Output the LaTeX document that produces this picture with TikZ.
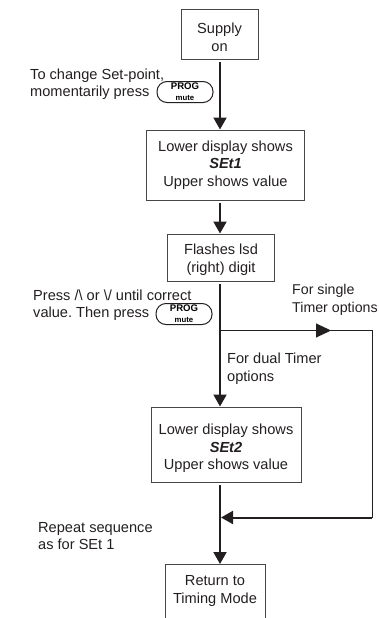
\documentclass[tikz,border=0pt]{standalone}
\usepackage{fontspec}
\setmainfont{Liberation Sans}
\frenchspacing
\usetikzlibrary{arrows.meta,shapes,positioning}
\definecolor{dfline}{RGB}{35,31,32}
\definecolor{dfbox}{RGB}{70,70,70}
\tikzstyle{stepbox} = [rectangle, draw=dfbox, line width=1pt, text centered, align=center, font=\fontsize{14.6}{17.5}\selectfont, text=dfline, inner sep=0pt]
\tikzstyle{note} = [align=left, anchor=west, font=\fontsize{14.6}{17.5}\selectfont, text=dfline, inner sep=0pt]
\tikzstyle{arrow} = [line width=2pt,-{Triangle[length=12pt,width=13pt]},color=dfline,shorten <=2.5pt]
\tikzstyle{thinline} = [line width=1pt,color=dfline]
\tikzstyle{progkey} = [rectangle, rounded corners=10pt, draw=dfline, line width=1pt, minimum width=56pt, minimum height=21pt, inner sep=0pt]
\newcommand{\progtext}{\raisebox{1.2pt}{\makebox[0pt]{\fontsize{9.6}{10}\selectfont\bfseries PROG}}%
\raisebox{-10pt}{\makebox[0pt]{\fontsize{7.8}{8}\selectfont\bfseries mute}}}
% extra space above the first line of a box
\newcommand{\topgap}[1]{\mbox{}\\[\dimexpr#1-17.5pt\relax]}
\begin{document}
\begin{tikzpicture}[x=1pt,y=1pt]
\useasboundingbox (0,0) rectangle (378,-618);
% Main boxes
\node[stepbox, minimum width=77pt, minimum height=50pt] (supply) at (219.5,-34.5) {\topgap{16.6pt}Supply\\on};
\node[stepbox, minimum width=158pt, minimum height=70pt] (set1) at (225.5,-165) {Lower display shows\\\textbf{\textit{SEt1}}\\Upper shows value};
\node[stepbox, minimum width=106.5pt, minimum height=47pt] (flash) at (221,-257.5) {\topgap{15pt}Flashes lsd\\(right) digit};
\node[stepbox, minimum width=150pt, minimum height=75pt] (set2) at (226,-444.5) {\topgap{19pt}Lower display shows\\\textbf{\textit{SEt2}}\\Upper shows value};
\node[stepbox, minimum width=100pt, minimum height=67pt] (back) at (215,-598) {Return to\\Timing Mode\\\mbox{}};

% Side texts
\node[note] (change) at (30,-84) {To change Set-point,\\momentarily press};
\node[progkey] (key1) at (185,-92) {\progtext};
\node[note] (press) at (33,-305) {Press /\textbackslash{} or \textbackslash/ until correct\\value. Then press};
\node[progkey] (key2) at (184,-314) {\progtext};
\node[note, font=\fontsize{14.2}{17.5}\selectfont] (single) at (292,-300) {For single\\Timer options};
\node[note] (dual) at (227,-368.5) {For dual Timer\\options};
\node[note] (repeat) at (38,-536) {Repeat sequence\\as for SEt 1};

% Junctions
\coordinate (branch) at (220,-330.5);
\coordinate (mid) at (331,-330.5);
\coordinate (turn1) at (372,-330.5);
\coordinate (turn2) at (372,-517.5);
\coordinate (merge) at (221,-517.5);

% Arrows
\draw[arrow] (supply.south -| branch) -- (set1.north -| branch);
\draw[arrow] (set1.south -| branch) -- (flash.north -| branch);
\draw[arrow] (flash.south -| branch) -- (set2.north -| branch);
\draw[arrow] (set2.south -| branch) -- (back.north -| branch);
\draw[thinline] (branch) -- (turn1) -- (turn2);
\draw[thinline,-{Triangle[length=15pt,width=14pt]}] (branch) -- (mid);
\draw[arrow,shorten <=0pt] (turn2) -- (merge);
\end{tikzpicture}
\end{document}
